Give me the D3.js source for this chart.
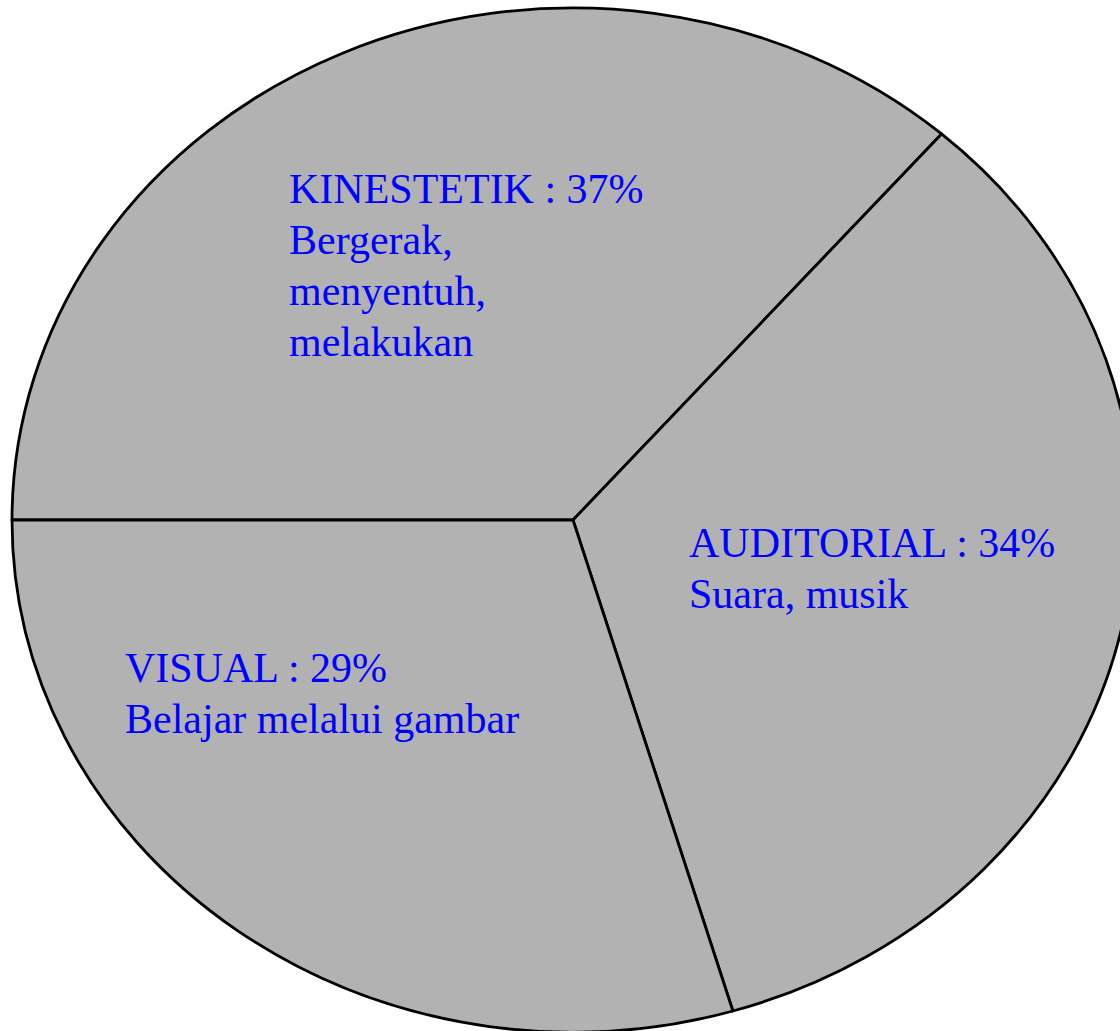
<!DOCTYPE html>
<meta charset="utf-8">
<style>
body { margin: 0; background: #fff; }
text {
  font: 42px "Liberation Serif", "Times New Roman", serif;
  fill: #0000ff;
}
</style>
<svg width="1120" height="1031"></svg>
<script src="https://d3js.org/d3.v7.min.js"></script>
<script>

// learning styles
var categories = ["KINESTETIK", "AUDITORIAL", "VISUAL"];
// printed percentages
var labelPercents = [37, 34, 29];
// slice shares as drawn in the picture (read from the slice boundaries)
var sliceShares = [36.4, 34.0, 29.6];
var descriptions = [
  ["Bergerak,", "menyentuh,", "melakukan"],
  ["Suara, musik"],
  ["Belajar melalui gambar"]
];

var svg = d3.select("svg");

var cx = 573, cy = 520, rx = 561, ry = 512;

var data = categories.map(function(c, i) {
  return {name: c, value: sliceShares[i], pct: labelPercents[i], desc: descriptions[i]};
});

// pie on a unit circle, then stretched to an ellipse
var pie = d3.pie()
  .sort(null)
  .value(function(d) { return d.value; })
  .startAngle(-Math.PI / 2)
  .endAngle(1.5 * Math.PI);

var arc = d3.arc().innerRadius(0).outerRadius(1);

var g = svg.append("g")
  .attr("transform", "translate(" + cx + "," + cy + ") scale(" + rx + "," + ry + ")");

g.selectAll("path")
  .data(pie(data))
  .enter().append("path")
    .attr("d", arc)
    .attr("fill", "#b2b2b2")
    .attr("stroke", "#000")
    .attr("stroke-width", 2.8)
    .attr("vector-effect", "non-scaling-stroke")
    .attr("stroke-linejoin", "round");

// first-line baseline of each label
var labelPos = [[289, 203], [689, 557], [125, 682]];
var lineHeight = 51;

var labels = svg.selectAll("text.label")
  .data(data)
  .enter().append("text")
    .attr("class", "label")
    .attr("x", function(d, i) { return labelPos[i][0]; })
    .attr("y", function(d, i) { return labelPos[i][1]; });

labels.each(function(d, i) {
  var t = d3.select(this);
  var lines = [d.name + " : " + d.pct + "%"].concat(d.desc);
  lines.forEach(function(l, j) {
    t.append("tspan")
      .attr("x", labelPos[i][0])
      .attr("y", labelPos[i][1] + j * lineHeight)
      .text(l);
  });
});

</script>
